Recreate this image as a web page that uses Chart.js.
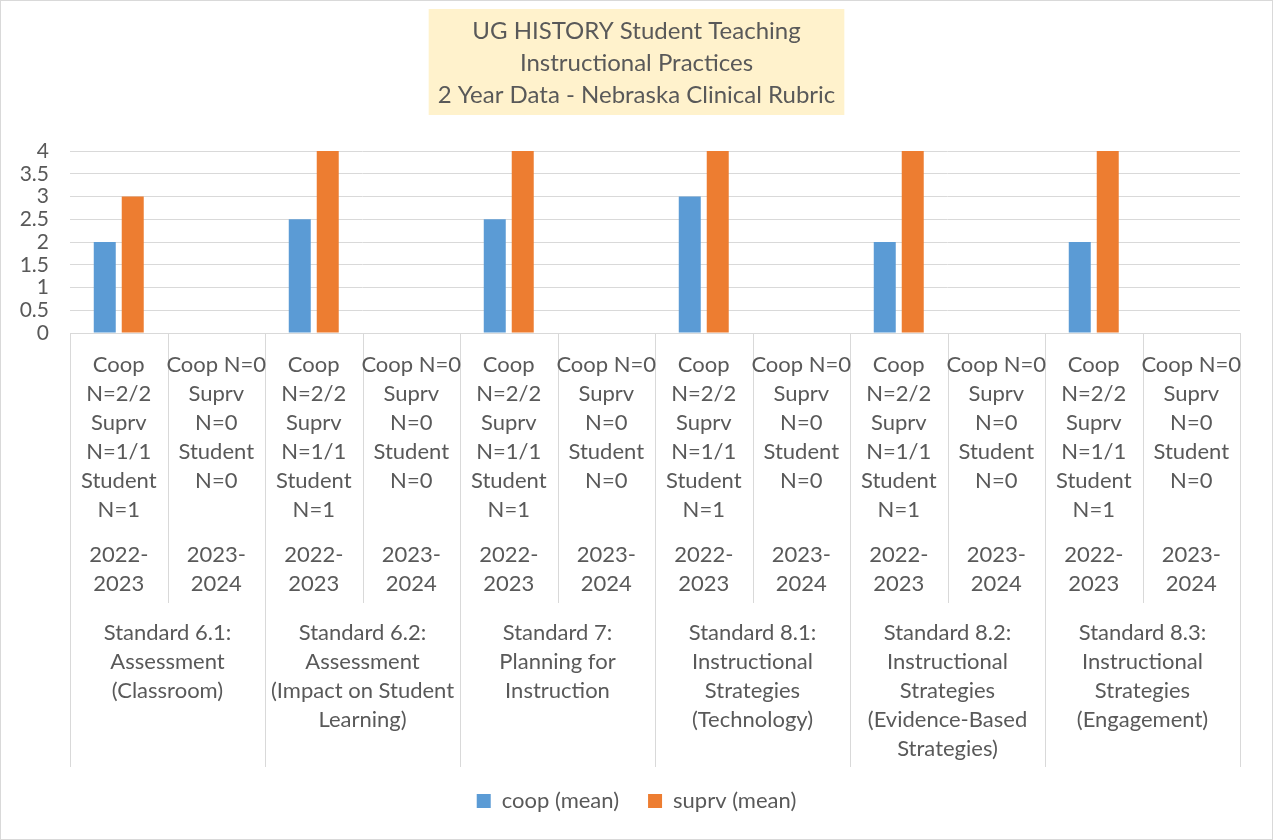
<!DOCTYPE html>
<html>
<head>
<meta charset="utf-8">
<title>UG HISTORY Student Teaching - Instructional Practices</title>
<script src="https://cdn.jsdelivr.net/npm/chart.js@4.4.1/dist/chart.umd.min.js"></script>
<style>
  html, body { margin: 0; padding: 0; background: #fff; }
  #wrap { width: 1273px; height: 840px; position: relative; }
</style>
</head>
<body>
<div id="wrap"><canvas id="chart"></canvas></div>
<script>
// Chart data
const titleLines = [
  'UG HISTORY Student Teaching',
  'Instructional Practices',
  '2 Year Data - Nebraska Clinical Rubric'
];

const groupLabels = [
  ['Standard 6.1:', 'Assessment', '(Classroom)'],
  ['Standard 6.2:', 'Assessment', '(Impact on Student', 'Learning)'],
  ['Standard 7:', 'Planning for', 'Instruction'],
  ['Standard 8.1:', 'Instructional', 'Strategies', '(Technology)'],
  ['Standard 8.2:', 'Instructional', 'Strategies', '(Evidence-Based', 'Strategies)'],
  ['Standard 8.3:', 'Instructional', 'Strategies', '(Engagement)']
];

const yearLabels = [['2022-', '2023'], ['2023-', '2024']];
const countLabels = [
  ['Coop', 'N=2/2', 'Suprv', 'N=1/1', 'Student', 'N=1'],
  ['Coop N=0', 'Suprv', 'N=0', 'Student', 'N=0']
];

// one value per group, per year
const coopMean = [
  [2, null], [2.5, null], [2.5, null], [3, null], [2, null], [2, null]
];
const suprvMean = [
  [3, null], [4, null], [4, null], [4, null], [4, null], [4, null]
];

const yTicks = { min: 0, max: 4, step: 0.5 };

const TEXT = '#595959';
const LINE = '#d9d9d9';
const FONT = 'Lato, "Open Sans", sans-serif';

// flatten into the 12 x categories
const categories = [];
groupLabels.forEach((g, gi) => {
  yearLabels.forEach((y, yi) => {
    categories.push(g.join(' ') + ' | ' + y.join(''));
  });
});

/**
 * Title box, multi-level category labels and divider lines
 */
const excelAxisPlugin = {
  id: 'excelAxis',
  afterLayout(chart) {
    // Excel centres the legend on the whole chart, not on the padded box
    const lg = chart.legend;
    if (lg) {
      lg.left = 0;
      lg.right = chart.width;
      lg.width = chart.width;
    }
  },
  beforeDraw(chart) {
    const ctx = chart.ctx;
    ctx.save();
    // outer chart border
    ctx.strokeStyle = LINE;
    ctx.lineWidth = 1;
    ctx.strokeRect(0.5, 0.5, chart.width - 1, chart.height - 1);

    // title box
    ctx.font = '24px ' + FONT;
    const w = Math.max(...titleLines.map(t => ctx.measureText(t).width));
    const cx = chart.width / 2;
    ctx.fillStyle = '#fff2cc';
    ctx.fillRect(cx - w / 2 - 9, 9, w + 18, 106);
    ctx.fillStyle = TEXT;
    ctx.textAlign = 'center';
    ctx.textBaseline = 'middle';
    titleLines.forEach((t, i) => ctx.fillText(t, cx, 31 + i * 32));
    ctx.restore();
  },
  afterDraw(chart) {
    const ctx = chart.ctx;
    const x = chart.scales.x;
    const area = chart.chartArea;
    const top = area.bottom;
    const subBottom = top + 270;
    const groupBottom = top + 434;
    const lh = 29;

    ctx.save();
    ctx.strokeStyle = LINE;
    ctx.lineWidth = 1;

    const n = categories.length;
    const edge = i => {
      if (i === 0) return area.left;
      if (i === n) return area.right;
      return (x.getPixelForValue(i - 1) + x.getPixelForValue(i)) / 2;
    };
    for (let i = 0; i <= n; i++) {
      const px = Math.round(edge(i)) + 0.5;
      ctx.beginPath();
      ctx.moveTo(px, top);
      ctx.lineTo(px, i % 2 === 0 ? groupBottom : subBottom);
      ctx.stroke();
    }

    ctx.fillStyle = TEXT;
    ctx.font = '22px ' + FONT;
    ctx.textAlign = 'center';
    ctx.textBaseline = 'middle';

    for (let i = 0; i < n; i++) {
      const cx = x.getPixelForValue(i);
      const yi = i % 2;
      countLabels[yi].forEach((t, k) => ctx.fillText(t, cx, top + 32 + k * lh));
      yearLabels[yi].forEach((t, k) => ctx.fillText(t, cx, top + 222 + k * lh));
    }

    groupLabels.forEach((lines, gi) => {
      const cx = (edge(gi * 2) + edge(gi * 2 + 2)) / 2;
      lines.forEach((t, k) => ctx.fillText(t, cx, top + 300 + k * lh));
    });
    ctx.restore();
  }
};

const ctx = document.getElementById('chart');

new Chart(ctx, {
  type: 'bar',
  data: {
    labels: categories,
    datasets: [{
      label: 'coop (mean)',
      data: coopMean.flat(),
      backgroundColor: '#5b9bd5',
      borderWidth: 0,
      barPercentage: 0.786,
      categoryPercentage: 0.574
    }, {
      label: 'suprv (mean)',
      data: suprvMean.flat(),
      backgroundColor: '#ed7d31',
      borderWidth: 0,
      barPercentage: 0.786,
      categoryPercentage: 0.574
    }]
  },
  options: {
    responsive: true,
    maintainAspectRatio: false,
    animation: false,
    layout: {
      padding: { top: 151, left: 17, right: 33, bottom: 18 }
    },
    scales: {
      x: {
        ticks: { display: false },
        grid: { display: false, drawTicks: false },
        border: { display: true, color: LINE, width: 1 },
        afterFit: scale => { scale.height = 428; }
      },
      y: {
        min: yTicks.min,
        max: yTicks.max,
        ticks: {
          stepSize: yTicks.step,
          autoSkip: false,
          padding: 21,
          color: TEXT,
          font: { family: FONT, size: 21, lineHeight: 1 },
          callback: v => String(v)
        },
        grid: { color: LINE, lineWidth: 1, drawTicks: false },
        border: { display: false },
        afterFit: scale => { scale.width = 53; }
      }
    },
    plugins: {
      title: { display: false },
      tooltip: { enabled: false },
      legend: {
        position: 'bottom',
        labels: {
          boxWidth: 14,
          boxHeight: 14,
          padding: 29,
          color: TEXT,
          font: { family: FONT, size: 22 }
        }
      }
    }
  },
  plugins: [excelAxisPlugin]
});
</script>
</body>
</html>
